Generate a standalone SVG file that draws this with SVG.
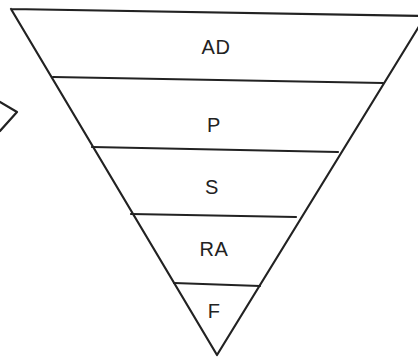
<svg xmlns="http://www.w3.org/2000/svg" width="418" height="360" viewBox="0 0 418 360">
<style>
.ln{fill:none;stroke:#222;stroke-width:2.2;stroke-linecap:round;stroke-linejoin:round}
.lb{font-family:"Liberation Sans",Arial,sans-serif;font-size:20px;letter-spacing:0.5px;fill:#222;text-anchor:middle}
</style>
<rect width="418" height="360" fill="#fff"/>
<g id="outline">
<path class="ln" d="M11,9 L424,16 M11,9 L217,355 L426,15"/>
</g>
<g id="connectors">
<path class="ln" d="M0,102 L17,112 L0,131"/>
</g>
<g id="band-AD"><text class="lb" x="216" y="54">AD</text></g>
<g id="band-P"><path class="ln" d="M53,77 L383,83"/><text class="lb" x="214" y="132">P</text></g>
<g id="band-S"><path class="ln" d="M92,147 L338,152"/><text class="lb" x="212" y="194">S</text></g>
<g id="band-RA"><path class="ln" d="M131,214 L296,217"/><text class="lb" x="214" y="256">RA</text></g>
<g id="band-F"><path class="ln" d="M174,283 L260,286"/><text class="lb" x="214" y="318">F</text></g>
</svg>
